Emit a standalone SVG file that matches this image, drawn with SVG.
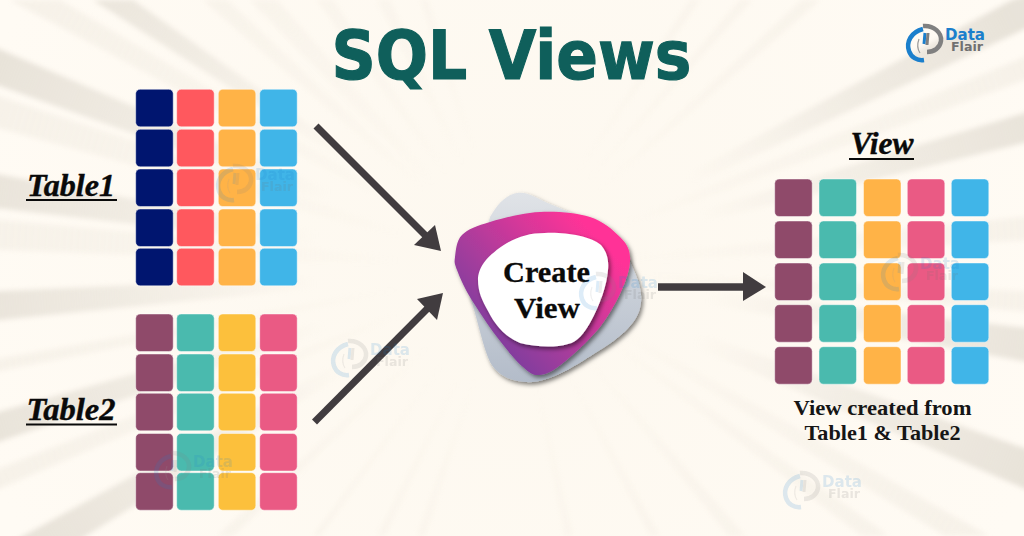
<svg xmlns="http://www.w3.org/2000/svg" xmlns:xlink="http://www.w3.org/1999/xlink" width="1024" height="536" viewBox="0 0 1024 536">
<style>
.s{font-family:"Liberation Serif","DejaVu Serif",serif;font-weight:bold;fill:#0a0a0a}
.l{font-size:31px;font-style:italic;text-anchor:middle;stroke:#0a0a0a;stroke-width:.4}
.c{font-size:30px;text-anchor:middle;stroke:#0a0a0a;stroke-width:.3}
.d{font-size:21px;text-anchor:middle;fill:#161616}
.u{stroke:#0a0a0a;stroke-width:2}
.g rect{width:37.5px;height:37.5px;rx:4.5px;stroke:#fff;stroke-opacity:.45;stroke-width:1}
.n{fill:#00156f}.r{fill:#ff585e}.o{fill:#ffb347}.b{fill:#40b5e8}
.m{fill:#8f4a6a}.t{fill:#4abaae}.y{fill:#fcc03c}.p{fill:#ea5a84}
.a{fill:none;stroke:#413c3f}
.h{fill:#413c3f}
.ld{font-family:"DejaVu Sans",sans-serif;font-weight:bold}
.k{fill:url(#ray1)}.w{fill:url(#ray2)}
</style>
<defs>
<radialGradient id="ray1" gradientUnits="userSpaceOnUse" cx="512" cy="268" r="560">
<stop offset="0.35" stop-color="#ddd7cc" stop-opacity="0"/>
<stop offset="0.7" stop-color="#ddd7cc" stop-opacity="0.42"/>
<stop offset="1" stop-color="#ddd7cc" stop-opacity="0.68"/>
</radialGradient>
<radialGradient id="ray2" gradientUnits="userSpaceOnUse" cx="512" cy="268" r="560">
<stop offset="0.2" stop-color="#e6e0d4" stop-opacity="0"/>
<stop offset="0.7" stop-color="#e6e0d4" stop-opacity="0.24"/>
<stop offset="1" stop-color="#e6e0d4" stop-opacity="0.34"/>
</radialGradient>
<radialGradient id="bg" gradientUnits="userSpaceOnUse" cx="512" cy="268" r="560">
<stop offset="0" stop-color="#fdf8ef"/><stop offset="1" stop-color="#fffbf4"/>
</radialGradient>
<linearGradient id="pk" x1="0.1" y1="0.95" x2="0.9" y2="0.25">
<stop offset="0" stop-color="#663d9f"/><stop offset="0.45" stop-color="#a83c9c"/><stop offset="1" stop-color="#ff3397"/>
</linearGradient>
<linearGradient id="gy" x1="0" y1="0" x2="0" y2="1">
<stop offset="0" stop-color="#e0e3e7"/><stop offset="1" stop-color="#b3bcc9"/>
</linearGradient>
<filter id="sh" x="-20%" y="-20%" width="140%" height="140%"><feDropShadow dx="2" dy="2.500" stdDeviation="2" flood-color="#000" flood-opacity="0.5"/></filter>
<filter id="soft" x="0" y="0" width="100%" height="100%" filterUnits="userSpaceOnUse" primitiveUnits="userSpaceOnUse"><feGaussianBlur stdDeviation="2.500"/></filter>
<g id="logo">
<path d="M-2,-13 C-14,-10 -19,0 -16,9 C-14,15 -8,19 -1,18" fill="none" stroke="#1b7fcc" stroke-width="4.500"/>
<path d="M0,-9 L-1,2" fill="none" stroke="#1b7fcc" stroke-width="3"/>
<path d="M-6,-3 Q-9,5 -5,11" fill="none" stroke="#9a9a9a" stroke-width="1.200"/>
<path d="M-2,-16 C9,-17 17,-9 16,-1 C15,6 9,10 2,10" fill="none" stroke="#808080" stroke-width="4.500"/>
<path d="M3,-9 L2,3" fill="none" stroke="#808080" stroke-width="3"/>
<text class="ld" x="20" y="-2" font-size="16.500" fill="#1b7fcc" textLength="40" lengthAdjust="spacingAndGlyphs">Data</text>
<text class="ld" x="26" y="9" font-size="12" fill="#707070" textLength="32" lengthAdjust="spacingAndGlyphs">Flair</text>
</g>
</defs>
<rect width="1024" height="536" fill="url(#bg)"/>
<g id="background" style="filter:blur(2.5px)">
<polygon class="k" points="512,268 -20,41 -20,79"/>
<polygon class="w" points="512,268 -20,90 -20,123"/>
<polygon class="k" points="512,268 -20,171 -20,206"/>
<polygon class="w" points="512,268 -20,218 -20,249"/>
<polygon class="k" points="512,268 93,0 133,0"/>
<polygon class="w" points="512,268 10,0 60,0"/>
<polygon class="w" points="512,268 203,0 227,0"/>
<polygon class="w" points="512,268 250,0 277,0"/>
<polygon class="w" points="512,268 317,0 333,0"/>
<polygon class="w" points="512,268 377,0 390,0"/>
<polygon class="w" points="512,268 420,0 428,0"/>
<polygon class="k" points="512,268 1012,0 1044,-10 1044,20"/>
<polygon class="w" points="512,268 1044,49 1044,73"/>
<polygon class="k" points="512,268 1044,107 1044,138"/>
<polygon class="w" points="512,268 1044,215 1044,239"/>
<polygon class="w" points="512,268 802,0 820,0"/>
<polygon class="w" points="512,268 740,0 752,0"/>
<polygon class="w" points="512,268 690,0 700,0"/>
<polygon class="w" points="512,268 1044,292 1044,313"/>
<polygon class="k" points="512,268 1044,330 1044,365"/>
<polygon class="k" points="512,268 1044,455 1044,497"/>
<polygon class="w" points="512,268 945,536 989,536"/>
<polygon class="w" points="512,268 862,536 889,536"/>
<polygon class="w" points="512,268 729,536 745,536"/>
<polygon class="w" points="512,268 650,536 660,536"/>
<polygon class="w" points="512,268 565,536 573,536"/>
<polygon class="k" points="512,268 -20,292 -20,322"/>
<polygon class="w" points="512,268 -20,362 -20,375"/>
<polygon class="k" points="512,268 -20,417 -20,448"/>
<polygon class="w" points="512,268 -20,476 -20,497"/>
<polygon class="k" points="512,268 5,546 70,546"/>
<polygon class="w" points="512,268 217,536 233,536"/>
<polygon class="w" points="512,268 313,536 320,536"/>
<polygon class="w" points="512,268 377,536 385,536"/>
<polygon class="w" points="512,268 417,536 425,536"/>
</g>
<g id="title"><text x="511.500" y="79" font-family="'DejaVu Sans',sans-serif" font-weight="bold" font-size="68" fill="#0f5f5b" stroke="#0f5f5b" stroke-width="1.200" text-anchor="middle" textLength="360" lengthAdjust="spacingAndGlyphs">SQL Views</text></g>
<use id="brand" xlink:href="#logo" href="#logo" x="925" y="42"/>

<g id="table1" class="g">
<g class="n"><rect x="135.700" y="89.300"/><rect x="135.700" y="129.300"/><rect x="135.700" y="169"/><rect x="135.700" y="209"/><rect x="135.700" y="248.300"/></g>
<g class="r"><rect x="176.700" y="89.300"/><rect x="176.700" y="129.300"/><rect x="176.700" y="169"/><rect x="176.700" y="209"/><rect x="176.700" y="248.300"/></g>
<g class="o"><rect x="218.300" y="89.300"/><rect x="218.300" y="129.300"/><rect x="218.300" y="169"/><rect x="218.300" y="209"/><rect x="218.300" y="248.300"/></g>
<g class="b"><rect x="259.700" y="89.300"/><rect x="259.700" y="129.300"/><rect x="259.700" y="169"/><rect x="259.700" y="209"/><rect x="259.700" y="248.300"/></g>
<text class="s l" x="71" y="196" textLength="88" lengthAdjust="spacingAndGlyphs">Table1</text>
<line class="u" x1="26" y1="200" x2="117" y2="200"/>
</g>

<g id="table2" class="g">
<g class="m"><rect x="135.700" y="314"/><rect x="135.700" y="354"/><rect x="135.700" y="393.300"/><rect x="135.700" y="433.500"/><rect x="135.700" y="472.700"/></g>
<g class="t"><rect x="176.700" y="314"/><rect x="176.700" y="354"/><rect x="176.700" y="393.300"/><rect x="176.700" y="433.500"/><rect x="176.700" y="472.700"/></g>
<g class="y"><rect x="218.300" y="314"/><rect x="218.300" y="354"/><rect x="218.300" y="393.300"/><rect x="218.300" y="433.500"/><rect x="218.300" y="472.700"/></g>
<g class="p"><rect x="259.700" y="314"/><rect x="259.700" y="354"/><rect x="259.700" y="393.300"/><rect x="259.700" y="433.500"/><rect x="259.700" y="472.700"/></g>
<text class="s l" x="71" y="420" textLength="89" lengthAdjust="spacingAndGlyphs">Table2</text>
<line class="u" x1="26" y1="424.500" x2="117" y2="424.500"/>
</g>

<g id="view" class="g">
<g class="m"><rect x="774.700" y="179"/><rect x="774.700" y="221"/><rect x="774.700" y="263"/><rect x="774.700" y="304.700"/><rect x="774.700" y="346.700"/></g>
<g class="t"><rect x="819" y="179"/><rect x="819" y="221"/><rect x="819" y="263"/><rect x="819" y="304.700"/><rect x="819" y="346.700"/></g>
<g class="o"><rect x="863.500" y="179"/><rect x="863.500" y="221"/><rect x="863.500" y="263"/><rect x="863.500" y="304.700"/><rect x="863.500" y="346.700"/></g>
<g class="p"><rect x="907.300" y="179"/><rect x="907.300" y="221"/><rect x="907.300" y="263"/><rect x="907.300" y="304.700"/><rect x="907.300" y="346.700"/></g>
<g class="b"><rect x="951.300" y="179"/><rect x="951.300" y="221"/><rect x="951.300" y="263"/><rect x="951.300" y="304.700"/><rect x="951.300" y="346.700"/></g>
<text class="s l" x="882" y="154" textLength="63" lengthAdjust="spacingAndGlyphs">View</text>
<line class="u" x1="849" y1="159" x2="914" y2="159"/>
<text class="s d" x="882.500" y="415" textLength="178" lengthAdjust="spacingAndGlyphs">View created from</text>
<text class="s d" x="882.500" y="440" textLength="156" lengthAdjust="spacingAndGlyphs">Table1 &amp; Table2</text>
</g>

<g id="create-view">
<path d="M517,193 C505,195 497,205 490,217 L470,297 C478,320 482,345 490,362 C497,375 510,381 525,382 C548,384 575,366 600,350 C618,339 636,325 640,308 C644,293 638,278 628,258 C610,235 580,215 550,204 C538,199 528,191 517,193 Z" fill="url(#gy)" filter="url(#sh)"/>
<path d="M455,257 C455.800,251.200 456.200,240.800 462,235 C467.800,229.200 477,225.800 490,222 C503,218.200 523.300,212.800 540,212 C556.700,211.200 576.700,212.800 590,217 C603.300,221.200 613.300,230.300 620,237 C626.700,243.700 629.500,248.700 630,257 C630.500,265.300 628,275.300 623,287 C618,298.700 610,314.300 600,327 C590,339.700 573,355 563,363 C553,371 546.700,374.300 540,375 C533.300,375.700 530.200,373.300 523,367 C515.800,360.700 505.800,348.700 497,337 C488.200,325.300 476.700,308.200 470,297 C463.300,285.800 459.500,276.700 457,270 C454.500,263.300 454.200,262.800 455,257 Z" fill="url(#pk)" filter="url(#sh)"/>
<path d="M478,280 C478,268 486,256 507,243 C520,236 530,233 545,233 C565,232 590,236 601,245 C607,252 609,260 608,270 C607,285 600,305 590,323 C584,333 578,342 568,344 C555,348 535,347 520,343 C505,337 495,325 488,311 C482,300 478,292 478,280 Z" fill="#fff" filter="url(#sh)"/>
<text class="s c" x="546.500" y="282" textLength="87" lengthAdjust="spacingAndGlyphs">Create</text>
<text class="s c" x="547" y="318" textLength="66" lengthAdjust="spacingAndGlyphs">View</text>
</g>

<g id="connectors">
<line class="a" stroke-width="7" x1="316" y1="126" x2="426" y2="236"/><polygon class="h" points="441,251 435,225 414,245"/>
<line class="a" stroke-width="7" x1="314.500" y1="422" x2="428" y2="308"/><polygon class="h" points="443,293 417,299 437,320"/>
<line class="a" stroke-width="7.500" x1="658" y1="287" x2="745" y2="287"/><polygon class="h" points="766,287 743,272 743,301"/>
</g>

<g id="watermarks" opacity="0.15">
<use xlink:href="#logo" href="#logo" x="235" y="182"/>
<use xlink:href="#logo" href="#logo" x="598" y="290"/>
<use xlink:href="#logo" href="#logo" x="350" y="357"/>
<use xlink:href="#logo" href="#logo" x="173" y="469"/>
<use xlink:href="#logo" href="#logo" x="802" y="489"/>
<use xlink:href="#logo" href="#logo" x="900" y="271"/>
</g>
</svg>
